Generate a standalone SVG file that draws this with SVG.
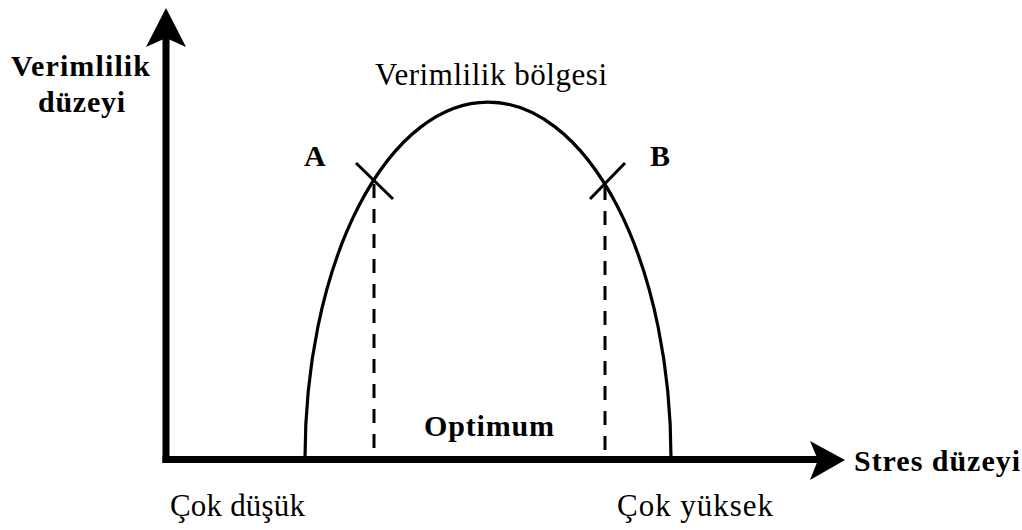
<svg xmlns="http://www.w3.org/2000/svg" width="1022" height="530" viewBox="0 0 1022 530">
<style>
text{font-family:'Liberation Serif','Times New Roman',Times,serif;fill:#000}
.b{font-weight:bold;font-size:30px}
.r{font-size:31px}
.axis{stroke:#000;stroke-width:7;fill:none}
.curve{stroke:#000;stroke-width:3.2;fill:none}
.dash{stroke:#000;stroke-width:3;stroke-dasharray:14 11;fill:none}
.tick{stroke:#000;stroke-width:3;fill:none}
</style>
<rect width="1022" height="530" fill="#fff"/>
<g id="connectors">
<line class="axis" x1="166" y1="36" x2="166" y2="463"/>
<line class="axis" x1="162.5" y1="459.5" x2="818" y2="459.5"/>
<polygon points="166,8 186,47 166,38 146,47" fill="#000"/>
<polygon points="845,460 810,441 818,460 810,480" fill="#000"/>
</g>
<g id="curve">
<path class="curve" d="M 305 458 A 183 356 0 0 1 671 458"/>
</g>
<g id="pointA">
<line class="tick" x1="356" y1="163" x2="393" y2="199"/>
<line class="dash" x1="374" y1="184" x2="374" y2="455"/>
<text class="b" x="304" y="166">A</text>
</g>
<g id="pointB">
<line class="tick" x1="625" y1="163" x2="590" y2="199"/>
<line class="dash" x1="605" y1="186" x2="605" y2="455"/>
<text class="b" x="650" y="166">B</text>
</g>
<g id="labels">
<text class="b" x="11" y="76" textLength="139" lengthAdjust="spacing">Verimlilik</text>
<text class="b" x="38" y="112" textLength="87" lengthAdjust="spacing">düzeyi</text>
<text class="r" x="375" y="85" textLength="232" lengthAdjust="spacing">Verimlilik bölgesi</text>
<text class="b" x="424" y="436" textLength="130" lengthAdjust="spacing">Optimum</text>
<text class="b" x="854" y="471" textLength="166" lengthAdjust="spacing">Stres düzeyi</text>
<text class="r" x="170" y="516" textLength="135" lengthAdjust="spacing">Çok düşük</text>
<text class="r" x="617" y="516" textLength="156" lengthAdjust="spacing">Çok yüksek</text>
</g>
</svg>
